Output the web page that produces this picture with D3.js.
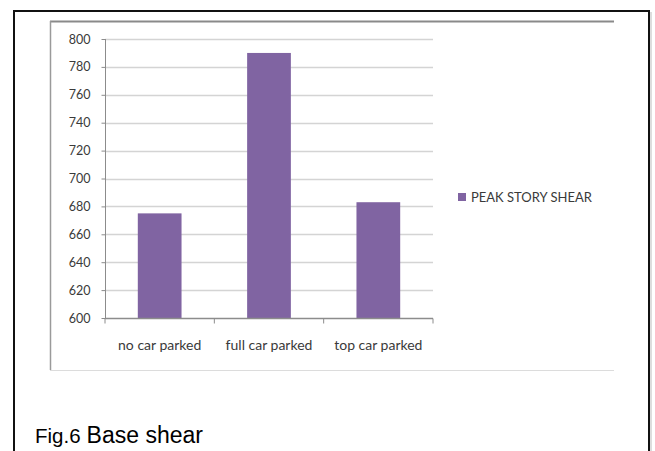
<!DOCTYPE html>
<html>
<head>
<meta charset="utf-8">
<script src="https://cdn.jsdelivr.net/npm/d3@7"></script>
<style>
  html, body { margin: 0; padding: 0; background: #fff; }
  svg { display: block; }
</style>
</head>
<body>
<svg id="chart" width="655" height="451"></svg>
<script>
// Peak story shear for each parking case
const categories = ["no car parked", "full car parked", "top car parked"];
const shearValues = [675, 790, 683];
const yTicks = [600, 620, 640, 660, 680, 700, 720, 740, 760, 780, 800];
const seriesName = "PEAK STORY SHEAR";
const caption = ["Fig.6", "Base shear"];

const svg = d3.select("#chart");
const barColor = "#8064a2";
const labelFont = "Lato, 'Open Sans', sans-serif";
const textColor = "#3a3a3a";

// Outer figure frame (open at the bottom)
svg.append("path")
  .attr("d", "M14,452 V11 H649 V452")
  .attr("fill", "none").attr("stroke", "#111").attr("stroke-width", 2);
svg.append("line").attr("x1", 651).attr("x2", 651).attr("y1", 12).attr("y2", 451)
  .attr("stroke", "#bbb").attr("stroke-width", 1);

// Chart area box: darker top and left, light bottom
svg.append("line").attr("x1", 50).attr("x2", 614).attr("y1", 21.5).attr("y2", 21.5)
  .attr("stroke", "#8a8a8a").attr("stroke-width", 2);
svg.append("line").attr("x1", 50.5).attr("x2", 50.5).attr("y1", 21).attr("y2", 370)
  .attr("stroke", "#9a9a9a").attr("stroke-width", 1.5);
svg.append("line").attr("x1", 50).attr("x2", 614).attr("y1", 370.5).attr("y2", 370.5)
  .attr("stroke", "#dcdcdc").attr("stroke-width", 1);

// Plot scales
const x = d3.scaleBand().domain(categories).range([105, 433]).paddingInner(0.6).paddingOuter(0.3);
const xOuter = d3.scaleBand().domain(categories).range([105, 433]);
const y = d3.scaleLinear().domain([600, 800]).range([318, 39]);

// Horizontal gridlines
svg.append("g").selectAll("line").data(yTicks.filter(t => t > 600)).join("line")
  .attr("x1", 105).attr("x2", 433)
  .attr("y1", d => Math.round(y(d)) + 0.5).attr("y2", d => Math.round(y(d)) + 0.5)
  .attr("stroke", "#d4d4d4").attr("stroke-width", 1.5);

// Y axis
const yAxis = svg.append("g").attr("transform", "translate(105.5,0)")
  .call(d3.axisLeft(y).tickValues(yTicks).tickSize(4).tickPadding(11).tickFormat(d3.format("d")));
yAxis.select(".domain").attr("stroke", "#8c8c8c").attr("d", `M-0,${y(800)}V${y(600)}`);
yAxis.selectAll(".tick line").attr("stroke", "#8c8c8c");
yAxis.selectAll("text").attr("font-family", labelFont).attr("font-size", 12.5).attr("fill", textColor);

// Bars
svg.append("g").selectAll("rect").data(categories).join("rect")
  .attr("x", d => x(d)).attr("width", x.bandwidth())
  .attr("y", (d, i) => y(shearValues[i]))
  .attr("height", (d, i) => y(600) - y(shearValues[i]))
  .attr("fill", barColor);

// X axis with ticks at band boundaries
const xg = svg.append("g").attr("transform", `translate(0,${Math.round(y(600)) + 0.5})`);
xg.append("line").attr("x1", 105).attr("x2", 433).attr("stroke", "#8c8c8c").attr("stroke-width", 1.5);
xg.selectAll("line.tk").data([105, ...categories.map(c => xOuter(c) + xOuter.bandwidth())]).join("line")
  .attr("class", "tk").attr("x1", d => d).attr("x2", d => d).attr("y1", 0).attr("y2", 5)
  .attr("stroke", "#8c8c8c");
xg.selectAll("text").data(categories).join("text")
  .attr("x", d => xOuter(d) + xOuter.bandwidth() / 2).attr("y", 31)
  .attr("text-anchor", "middle").attr("font-family", labelFont).attr("font-size", 14)
  .attr("fill", textColor).text(d => d);

// Legend
const lg = svg.append("g").attr("transform", "translate(458,193)");
lg.append("rect").attr("width", 8).attr("height", 8).attr("fill", barColor);
lg.append("text").attr("x", 13).attr("y", 8.5).attr("font-family", labelFont)
  .attr("font-size", 13).attr("fill", textColor).text(seriesName);

// Caption
const cap = svg.append("text").attr("x", 35).attr("y", 442.5)
  .attr("font-family", "'Liberation Sans', Arial, sans-serif").attr("fill", "#000");
cap.append("tspan").attr("font-size", 20.5).text(caption[0]);
cap.append("tspan").attr("font-size", 23).attr("dx", 6).text(caption[1]);
</script>
</body>
</html>
